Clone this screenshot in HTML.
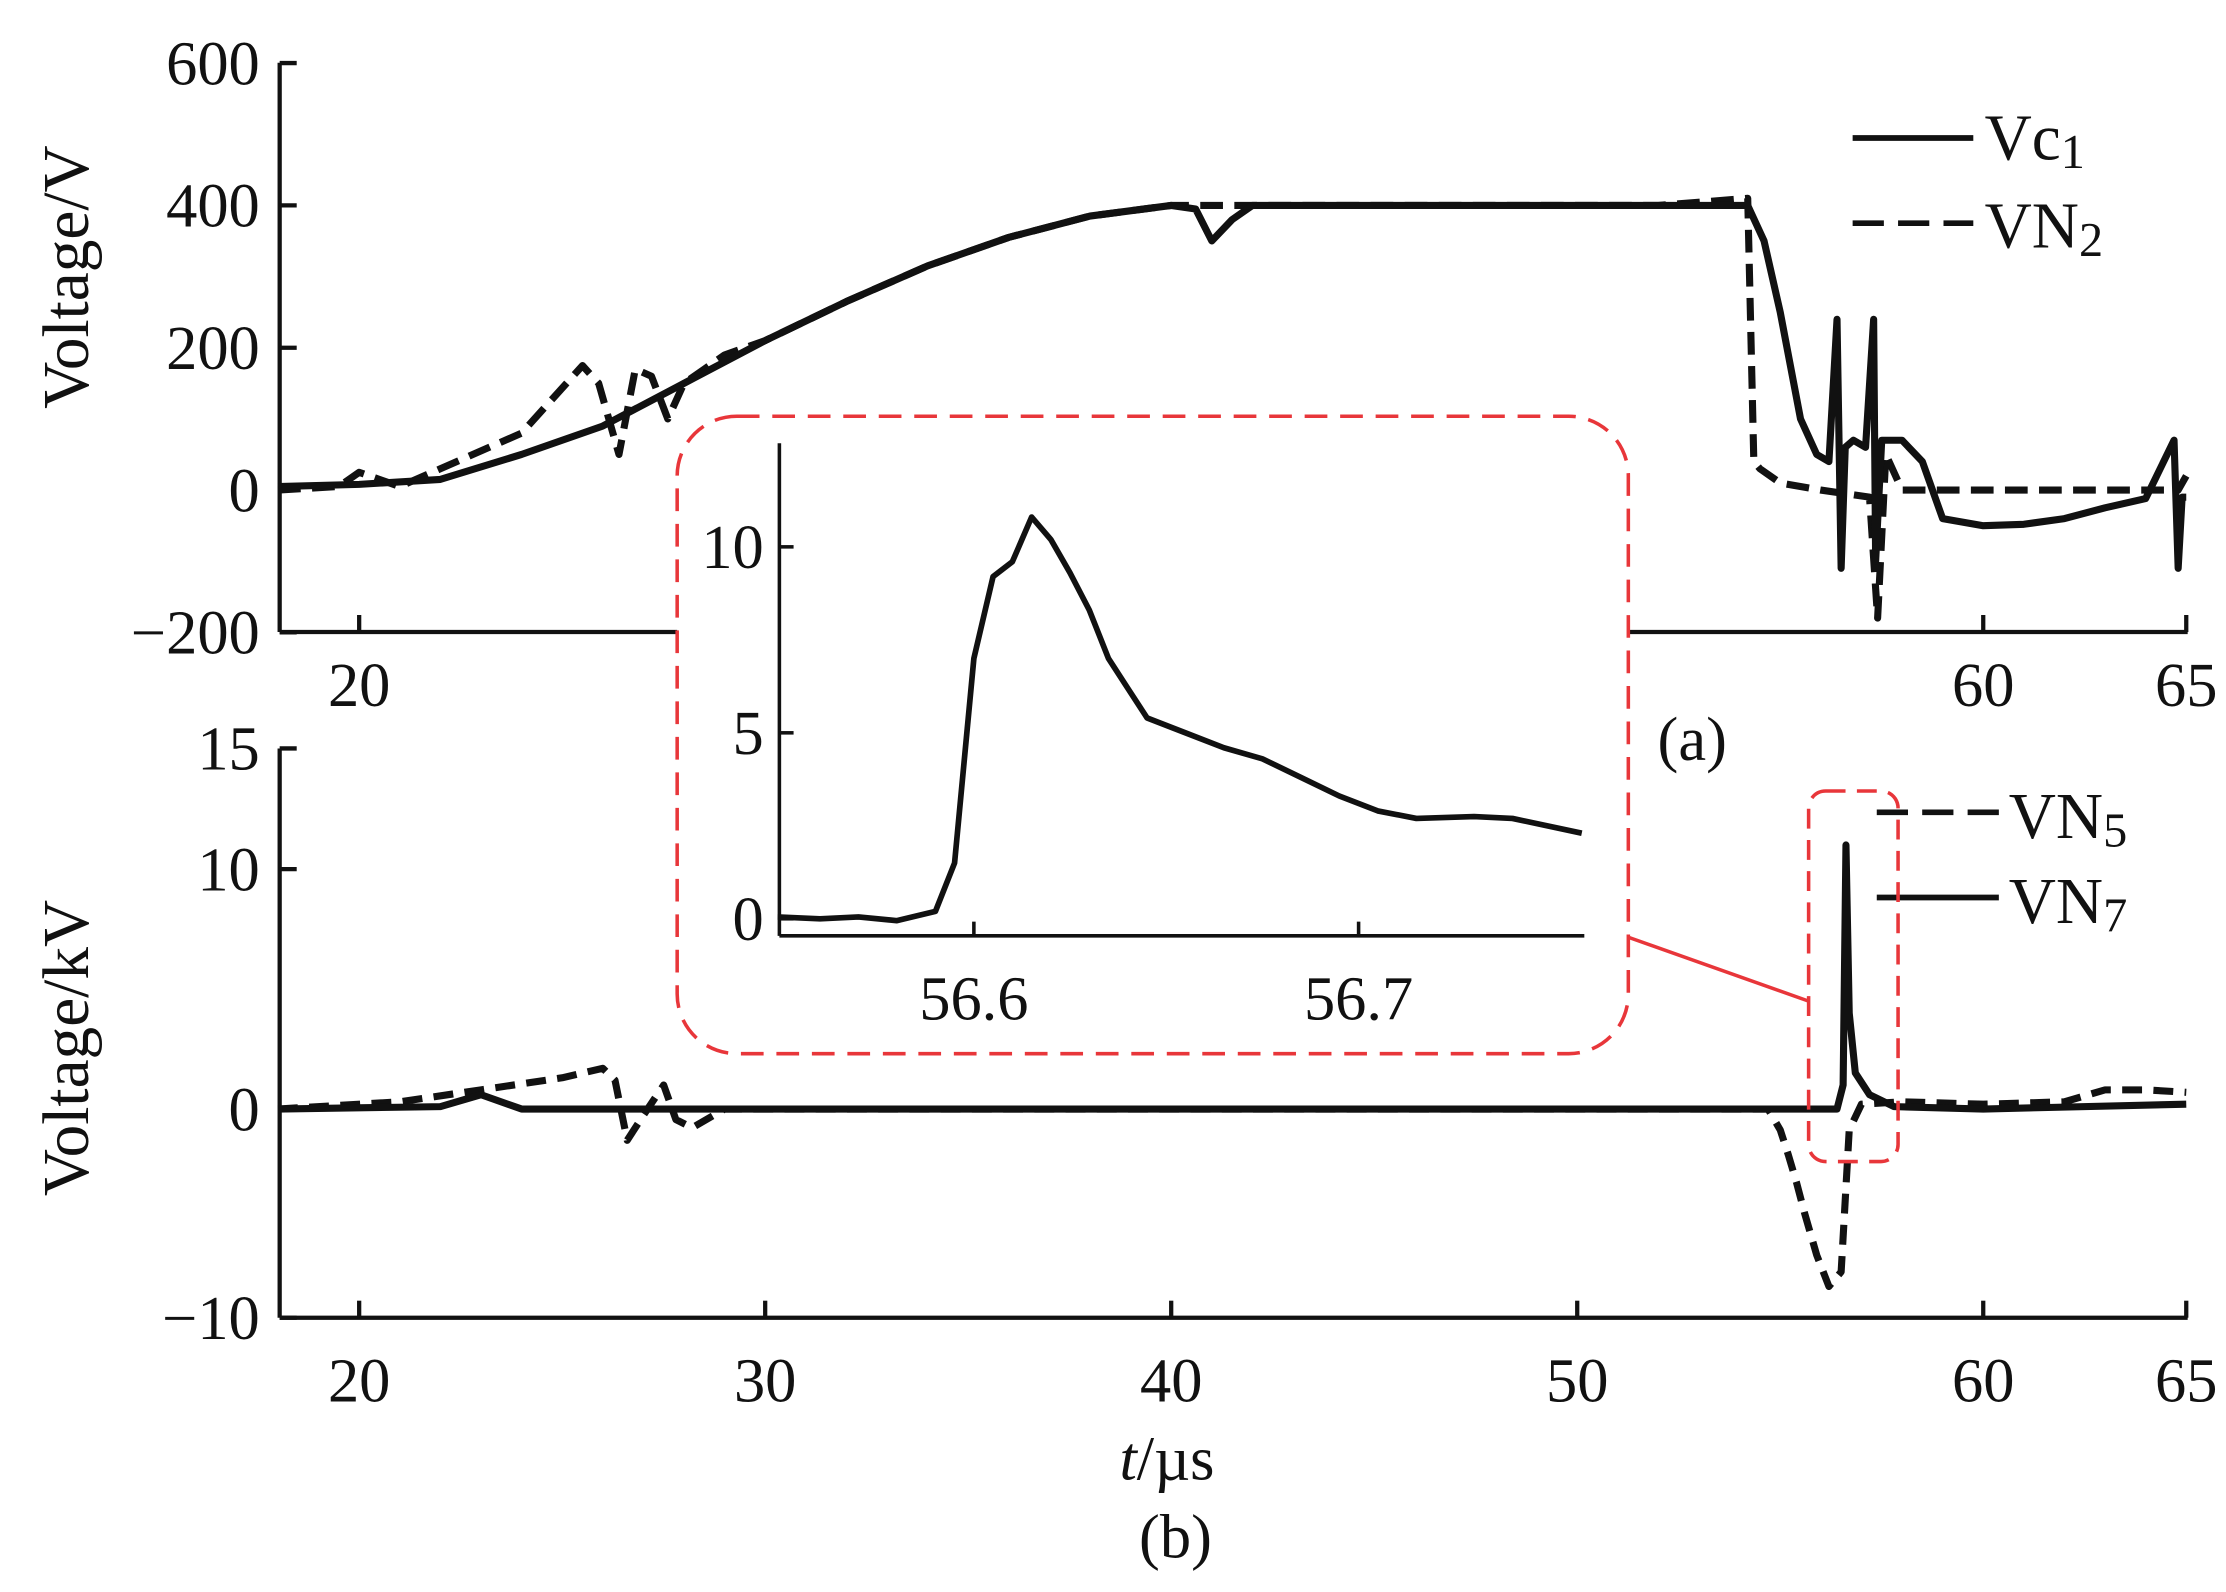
<!DOCTYPE html>
<html><head><meta charset="utf-8">
<style>
html,body{margin:0;padding:0;background:#fff;}
svg{display:block;}
text{font-family:"Liberation Serif",serif;fill:#111;}
</style></head>
<body>
<svg id="fig" width="2226" height="1592" viewBox="0 0 1568 1121" xmlns="http://www.w3.org/2000/svg">
<rect x="0" y="0" width="1568" height="1121" fill="#fff"/>
<g id="chartA"></g>
<g id="chartB"></g>
<g id="chartI"></g>
</svg>
<script>
// ---- data ----
const xTicksA = [20, 30, 40, 50, 60, 65];
const yTicksA = [600, 400, 200, 0, -200];
const yLabelsA = ["600", "400", "200", "0", "\u2212200"];
const vc1T = [18, 20, 22, 24, 26, 28, 30, 32, 34, 36, 38, 40, 40.6, 41, 41.5, 42, 44, 48, 52, 54.2, 54.6, 55, 55.5, 55.9, 56.2, 56.4, 56.5, 56.6, 56.8, 57.1, 57.3, 57.35, 57.5, 58, 58.5, 59, 60, 61, 62, 63, 64, 64.7, 64.8, 64.9, 65];
const vc1V = [5, 8, 15, 50, 90, 150, 210, 265, 315, 355, 385, 400, 395, 350, 380, 400, 400, 400, 400, 400, 350, 250, 100, 50, 40, 240, -110, 60, 70, 60, 240, -100, 70, 70, 40, -40, -50, -48, -40, -25, -12, 70, -110, -10, -10];
const vn2T = [18, 19.5, 20, 20.5, 21, 22, 24, 25.5, 25.9, 26.4, 26.8, 27.2, 27.6, 28, 28.5, 29, 30, 32, 34, 36, 38, 40, 44, 48, 52, 54.2, 54.35, 54.5, 55, 56, 57.2, 57.4, 57.6, 58, 59, 60, 62, 64, 64.8, 65];
const vn2V = [0, 5, 25, 15, 5, 30, 80, 175, 150, 50, 170, 160, 100, 150, 170, 190, 210, 265, 315, 355, 385, 400, 400, 400, 400, 410, 40, 30, 10, 0, -10, -180, 50, 0, 0, 0, 0, 0, 0, 20];
const xTicksB = [20, 30, 40, 50, 60, 65];
const yTicksB = [15, 10, 0, -10];
const yLabelsB = ["15", "10", "0", "\u221210"];
const vn5T = [18, 21, 23, 25, 26, 26.3, 26.6, 27, 27.5, 27.8, 28.2, 29, 40, 54.7, 55, 55.2, 55.4, 55.6, 55.9, 56.2, 56.5, 56.7, 57, 58, 60, 62, 63, 64, 65];
const vn5V = [0, 0.3, 0.8, 1.3, 1.7, 1.2, -1.5, -0.3, 1, -0.5, -0.9, 0, 0, 0, -1, -2.2, -3.5, -5, -7, -8.5, -7.8, -1, 0.2, 0.3, 0.2, 0.3, 0.8, 0.8, 0.7];
const vn7T = [18, 22, 23, 24, 40, 56.4, 56.55, 56.62, 56.7, 56.85, 57.2, 57.8, 60, 65];
const vn7V = [0, 0.1, 0.6, 0, 0, 0, 1, 11, 4, 1.5, 0.6, 0.1, 0, 0.2];
const xTicksI = [56.6, 56.7];
const yTicksI = [10, 5, 0];
const insT = [56.549, 56.56, 56.57, 56.58, 56.59, 56.595, 56.6, 56.605, 56.61, 56.615, 56.62, 56.625, 56.63, 56.635, 56.64, 56.645, 56.655, 56.665, 56.675, 56.685, 56.695, 56.705, 56.715, 56.73, 56.74, 56.758];
const insV = [0.05, 0, 0.05, -0.05, 0.2, 1.5, 7, 9.2, 9.6, 10.8, 10.2, 9.3, 8.3, 7, 6.2, 5.4, 5, 4.6, 4.3, 3.8, 3.3, 2.9, 2.7, 2.75, 2.7, 2.3];

// ---- scales ----
const NS="http://www.w3.org/2000/svg";
const xS = t => 253 + (t - 20) * 28.6;
const yA = v => 345 - v * 0.5013;
function pw(dom, rng){ return v=>{ for(let i=0;i<dom.length-1;i++){ const a=dom[i],b=dom[i+1]; if((v<=a&&v>=b)||i===dom.length-2){ return rng[i]+(v-a)/(b-a)*(rng[i+1]-rng[i]); } } }; }
const yB = pw([15,10,0,-10],[527,612,781,928]);
const xI = t => 686 + (t - 56.6) * 2710;
const yI = v => 647 - v * 26.2;
const FS = 44;

function el(parent, tag, attrs, txt){ const e=document.createElementNS(NS,tag); for(const k in attrs) e.setAttribute(k,attrs[k]); if(txt!==undefined) e.textContent=txt; parent.appendChild(e); return e; }
function path(g, T, V, xs, ys, dash, w){ let d=T.map((t,i)=>(i?"L":"M")+xs(t).toFixed(1)+","+ys(V[i]).toFixed(1)).join(""); const p=el(g,"path",{d:d,fill:"none",stroke:"#111","stroke-width":w||4,"stroke-linejoin":"round"}); if(dash) p.setAttribute("stroke-dasharray",dash); return p; }
function sub(g, x, y, main, s, name){ const t=el(g,"text",{x:x,y:y,"font-size":46}); el(t,"tspan",{},main); el(t,"tspan",{"font-size":34,dy:6},s);


return t; }

const gA=document.getElementById("chartA"), gB=document.getElementById("chartB"), gI=document.getElementById("chartI");

// ---- chart a ----
let p;
p=path(gA,vn2T,vn2V,xS,yA,"16,8",5);


p=path(gA,vc1T,vc1V,xS,yA,null,5);


el(gA,"line",{x1:197,y1:44,x2:197,y2:445,stroke:"#111","stroke-width":3,});
el(gA,"line",{x1:197,y1:445,x2:1541,y2:445,stroke:"#111","stroke-width":3,});
yTicksA.forEach((v,i)=>{ el(gA,"line",{x1:197,y1:yA(v),x2:209,y2:yA(v),stroke:"#111","stroke-width":3}); const t=el(gA,"text",{x:183,y:yA(v)+15,"font-size":FS,"text-anchor":"end"},yLabelsA[i]);

 });
xTicksA.forEach(v=>{ el(gA,"line",{x1:xS(v),y1:445,x2:xS(v),y2:433,stroke:"#111","stroke-width":3}); const t=el(gA,"text",{x:xS(v),y:497,"font-size":FS,"text-anchor":"middle"},String(v));

 });
el(gA,"text",{x:62,y:195,"font-size":46,"text-anchor":"middle",transform:"rotate(-90 62 195)",},"Voltage/V");
el(gA,"line",{x1:1305,y1:97,x2:1390,y2:97,stroke:"#111","stroke-width":4,});
sub(gA,1398,112,"Vc","1","legend-vc1");
el(gA,"line",{x1:1305,y1:157,x2:1390,y2:157,stroke:"#111","stroke-width":4,"stroke-dasharray":"22,10",});
sub(gA,1398,174,"VN","2","legend-vn2");
el(gA,"text",{x:1192,y:535,"font-size":FS,"text-anchor":"middle",},"(a)");

// ---- chart b ----
p=path(gB,vn5T,vn5V,xS,yB,"14,8",5);


p=path(gB,vn7T,vn7V,xS,yB,null,5);


el(gB,"line",{x1:197,y1:527,x2:197,y2:928,stroke:"#111","stroke-width":3,});
el(gB,"line",{x1:197,y1:928,x2:1541,y2:928,stroke:"#111","stroke-width":3,});
yTicksB.forEach((v,i)=>{ el(gB,"line",{x1:197,y1:yB(v),x2:209,y2:yB(v),stroke:"#111","stroke-width":3}); const t=el(gB,"text",{x:183,y:yB(v)+15,"font-size":FS,"text-anchor":"end"},yLabelsB[i]);

 });
xTicksB.forEach(v=>{ el(gB,"line",{x1:xS(v),y1:928,x2:xS(v),y2:916,stroke:"#111","stroke-width":3}); const t=el(gB,"text",{x:xS(v),y:987,"font-size":FS,"text-anchor":"middle"},String(v));

 });
el(gB,"text",{x:62,y:738,"font-size":46,"text-anchor":"middle",transform:"rotate(-90 62 738)",},"Voltage/kV");
const xt=el(gB,"text",{x:822,y:1042,"font-size":FS,"text-anchor":"middle",});
el(xt,"tspan",{"font-style":"italic"},"t"); el(xt,"tspan",{},"/\u00b5s");
el(gB,"text",{x:828,y:1097,"font-size":FS,"text-anchor":"middle",},"(b)");
el(gB,"line",{x1:1322,y1:572,x2:1408,y2:572,stroke:"#111","stroke-width":4,"stroke-dasharray":"22,10",});
sub(gB,1415,590,"VN","5","legend-vn5");
el(gB,"line",{x1:1322,y1:632,x2:1408,y2:632,stroke:"#111","stroke-width":4,});
sub(gB,1415,650,"VN","7","legend-vn7");
el(gB,"rect",{x:1274,y:557,width:63,height:261,rx:12,fill:"none",stroke:"#e8363a","stroke-width":2.5,"stroke-dasharray":"14,8",});
el(gB,"line",{x1:1147,y1:660,x2:1274,y2:705,stroke:"#e8363a","stroke-width":2.5,});

// ---- inset ----
el(gI,"rect",{x:477,y:293,width:670,height:449,rx:42,fill:"#fff",stroke:"#e8363a","stroke-width":2.5,"stroke-dasharray":"16,9",});
p=path(gI,insT,insV,xI,yI,null,4);


el(gI,"line",{x1:549,y1:312,x2:549,y2:659,stroke:"#111","stroke-width":2.5,});
el(gI,"line",{x1:549,y1:659,x2:1116,y2:659,stroke:"#111","stroke-width":2.5,});
yTicksI.forEach(v=>{ el(gI,"line",{x1:549,y1:yI(v),x2:559,y2:yI(v),stroke:"#111","stroke-width":2.5}); const t=el(gI,"text",{x:538,y:yI(v)+15,"font-size":FS,"text-anchor":"end"},String(v));

 });
xTicksI.forEach(v=>{ el(gI,"line",{x1:xI(v),y1:659,x2:xI(v),y2:649,stroke:"#111","stroke-width":2.5}); const t=el(gI,"text",{x:xI(v),y:718,"font-size":FS,"text-anchor":"middle"},v.toFixed(1));

 });
</script>
</body></html>
